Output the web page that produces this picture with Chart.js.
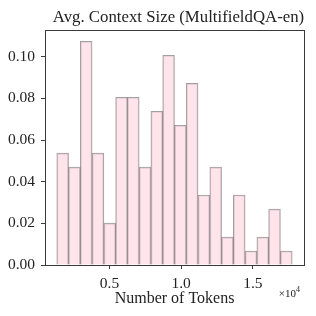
<!DOCTYPE html>
<html>
<head>
<meta charset="utf-8">
<script src="https://cdn.jsdelivr.net/npm/chart.js@4/dist/chart.umd.min.js"></script>
<style>
html,body{margin:0;padding:0;background:#fff;}
#wrap{width:316px;height:316px;position:relative;}
</style>
</head>
<body>
<div id="wrap"><canvas id="c" width="316" height="316"></canvas></div>
<script>
// Bin edges (tokens) and normalized bar heights
const binCenters = [1736, 2557, 3378, 4199, 5020, 5841, 6662, 7483, 8304, 9125,
                    9946, 10767, 11588, 12409, 13230, 14051, 14872, 15693, 16514, 17335];
const heights = [0.0537, 0.0470, 0.1074, 0.0537, 0.0201, 0.0805, 0.0805, 0.0470, 0.0738, 0.1007,
                 0.0671, 0.0872, 0.0336, 0.0470, 0.0134, 0.0336, 0.0067, 0.0134, 0.0268, 0.0067];
const xTicks = [5000, 10000, 15000];
const yTicks = [0, 0.02, 0.04, 0.06, 0.08, 0.10];
const xMin = 504, xMax = 18569;
const yMin = 0, yMax = 0.1128;
const titleText = 'Avg. Context Size (MultifieldQA-en)';

const FONT = "'Liberation Serif', 'DejaVu Serif', serif";
const AX = '#3a3a3a';

const framePlugin = {
  id: 'frame',
  afterDraw(chart) {
    const {ctx, chartArea: a} = chart;
    ctx.save();
    ctx.strokeStyle = AX;
    ctx.lineWidth = 1;
    ctx.strokeRect(Math.round(a.left) + 0.5, Math.round(a.top) + 0.5,
                   Math.round(a.right - a.left), Math.round(a.bottom - a.top));
    // title centred over the plot area
    ctx.fillStyle = '#222';
    ctx.textAlign = 'center';
    ctx.textBaseline = 'alphabetic';
    ctx.font = "16.8px " + FONT;
    ctx.fillText(titleText, (a.left + a.right) / 2 + 4, a.top - 8);
    // offset text
    ctx.textAlign = 'right';
    const x = a.right - 4;
    const y = a.bottom + 32;
    ctx.font = "8px " + FONT;
    const w4 = ctx.measureText('4').width;
    ctx.fillText('4', x, y - 5);
    ctx.font = "11px " + FONT;
    ctx.fillText('\u00d710', x - w4, y);
    ctx.restore();
  }
};

new Chart(document.getElementById('c'), {
  type: 'bar',
  data: {
    datasets: [{
      data: binCenters.map((x, i) => ({x: x, y: heights[i]})),
      backgroundColor: 'rgba(255,214,224,0.65)',
      borderColor: 'rgba(90,80,85,0.55)',
      borderWidth: 1,
      borderSkipped: 'bottom',
      barPercentage: 1,
      categoryPercentage: 1
    }]
  },
  options: {
    responsive: false,
    animation: false,
    devicePixelRatio: 1,
    layout: {padding: {left: 0, right: 12, top: 30, bottom: 8}},
    plugins: {
      legend: {display: false},
      tooltip: {enabled: false},
      title: {display: false}
    },
    scales: {
      x: {
        type: 'linear',
        offset: false,
        min: xMin, max: xMax,
        afterBuildTicks: s => { s.ticks = xTicks.map(v => ({value: v})); },
        afterFit: s => { s.height = 43; },
        ticks: {
          color: '#222',
          font: {family: FONT, size: 15.5},
          padding: 6,
          maxRotation: 0,
          callback: v => (v / 1e4).toFixed(1)
        },
        grid: {offset: false, drawOnChartArea: false, drawTicks: true, tickLength: 4, color: AX},
        border: {display: true, color: AX},
        title: {
          display: true,
          text: 'Number of Tokens',
          color: '#222',
          font: {family: FONT, size: 16},
          padding: {top: 0, bottom: 0}
        }
      },
      y: {
        type: 'linear',
        min: yMin, max: yMax,
        afterBuildTicks: s => { s.ticks = yTicks.map(v => ({value: v})); },
        afterFit: s => { s.width = 45; },
        ticks: {
          color: '#222',
          font: {family: FONT, size: 15.5},
          padding: 6,
          callback: v => v.toFixed(2)
        },
        grid: {drawOnChartArea: false, drawTicks: true, tickLength: 4, color: AX},
        border: {display: true, color: AX}
      }
    }
  },
  plugins: [framePlugin]
});
</script>
</body>
</html>
